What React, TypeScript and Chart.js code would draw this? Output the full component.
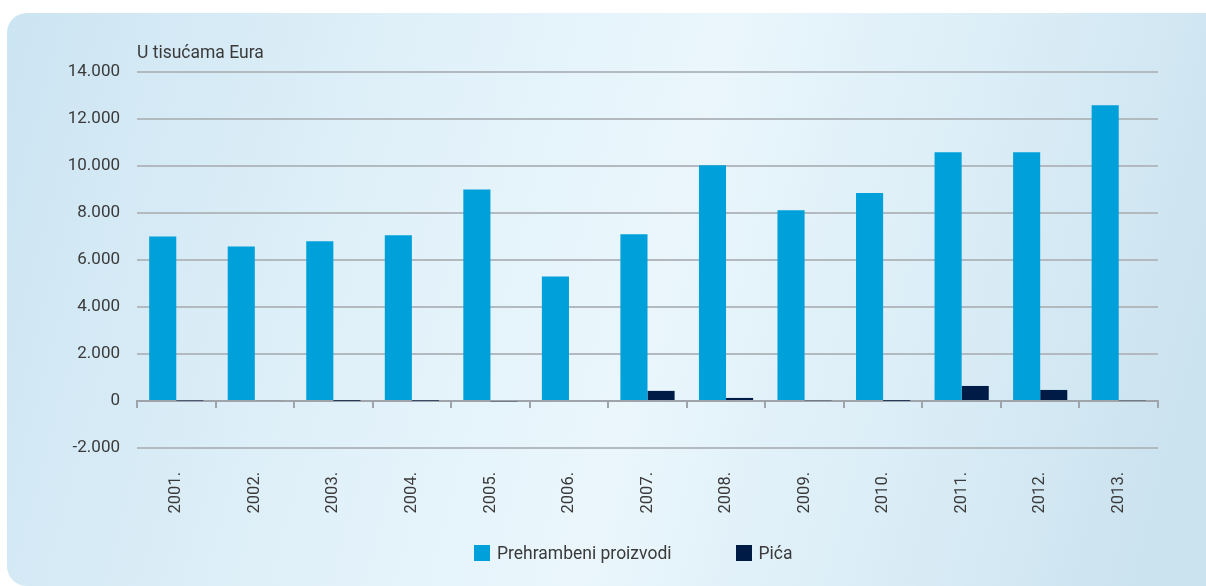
import React, { useEffect, useRef } from "react";
import { Chart, registerables } from "chart.js";

Chart.register(...registerables);

const categories = ["2001.", "2002.", "2003.", "2004.", "2005.", "2006.", "2007.", "2008.", "2009.", "2010.", "2011.", "2012.", "2013."];
const foodValues = [7000, 6570, 6800, 7050, 9000, 5300, 7100, 10030, 8120, 8850, 10580, 10580, 12580];
const drinkValues = [20, 40, 10, 15, -30, 0, 430, 130, 30, 10, 640, 470, 30];
const seriesNames = ["Prehrambeni proizvodi", "Pića"];
const seriesColors = ["#00a0da", "#001b45"];
const yTitle = "U tisućama Eura";
const yMin = -2000;
const yMax = 14000;
const yStep = 2000;

const FONT = "Roboto, 'DejaVu Sans', sans-serif";
const TEXT = "#3a3a3a";

function fmt(v: number): string {
  const s = Math.abs(v).toString().replace(/\B(?=(\d{3})+(?!\d))/g, ".");
  return (v < 0 ? "-" : "") + s;
}

const titlePlugin = {
  id: "axisTitleText",
  afterDraw(chart: any) {
    const { ctx, chartArea } = chart;
    ctx.save();
    ctx.font = `17.5px ${FONT}`;
    ctx.fillStyle = TEXT;
    ctx.textAlign = "left";
    ctx.textBaseline = "alphabetic";
    ctx.fillText(yTitle, chartArea.left, chartArea.top - 14);
    ctx.restore();
  },
};

export default function App() {
  const ref = useRef<HTMLCanvasElement | null>(null);

  useEffect(() => {
    if (!ref.current) return;
    const chart = new Chart(ref.current, {
      type: "bar",
      data: {
        labels: categories,
        datasets: [
          {
            label: seriesNames[0],
            data: foodValues,
            backgroundColor: seriesColors[0],
            categoryPercentage: 0.69,
            barPercentage: 1.0,
          },
          {
            label: seriesNames[1],
            data: drinkValues,
            backgroundColor: seriesColors[1],
            categoryPercentage: 0.69,
            barPercentage: 1.0,
          },
        ],
      },
      options: {
        animation: false,
        responsive: false,
        maintainAspectRatio: false,
        layout: { padding: { top: 72, left: 0, right: 48, bottom: 38 } },
        plugins: {
          legend: { display: false },
          tooltip: { enabled: false },
        },
        scales: {
          x: {
            type: "category",
            position: "bottom",
            grid: { display: false },
            border: { display: false },
            ticks: {
              minRotation: 90,
              maxRotation: 90,
              padding: 16,
              color: TEXT,
              font: { family: FONT, size: 16.5 },
              autoSkip: false,
            },
            afterFit(scale: any) {
              scale.height = 100;
            },
          },
          xz: {
            type: "category",
            position: { y: 0 } as any,
            grid: {
              display: true,
              drawOnChartArea: false,
              drawTicks: true,
              tickLength: 6,
              offset: true,
              color: "#9ea4a9",
              lineWidth: 2,
            },
            border: { display: true, color: "#9ea4a9", width: 2 },
            ticks: { display: false },
          },
          y: {
            min: yMin,
            max: yMax,
            ticks: {
              stepSize: yStep,
              padding: 17,
              color: TEXT,
              font: { family: FONT, size: 17 },
              callback: (v: any) => fmt(Number(v)),
            },
            grid: { color: "#b2babf", lineWidth: 2, drawTicks: false },
            border: { display: false },
            afterFit(scale: any) {
              scale.width = 137;
            },
          },
        },
      } as any,
      plugins: [titlePlugin],
    });
    return () => chart.destroy();
  }, []);

  return (
    <div
      style={{
        position: "fixed",
        left: 0,
        top: 0,
        width: 1206,
        height: 586,
        overflow: "hidden",
        background: "#ffffff",
        fontFamily: FONT,
      }}
    >
      <div
        style={{
          position: "absolute",
          left: 7,
          top: 13,
          width: 1240,
          height: 573,
          borderRadius: 20,
          background: "linear-gradient(105deg, #cce5f2 0%, #e3f2fa 35%, #eaf6fc 52%, #d9ecf6 75%, #cbe3ef 92%)",
        }}
      />
      <canvas
        ref={ref}
        width={1206}
        height={586}
        style={{ position: "absolute", left: 0, top: 0, width: 1206, height: 586 }}
      />
      <div
        style={{
          position: "absolute",
          top: 543,
          left: 474,
          display: "flex",
          alignItems: "center",
          fontSize: 17.5,
          color: TEXT,
          whiteSpace: "nowrap",
        }}
      >
        <span style={{ display: "inline-block", width: 16, height: 16, background: seriesColors[0], marginRight: 7 }} />
        <span style={{ lineHeight: "20px" }}>{seriesNames[0]}</span>
        <span style={{ display: "inline-block", width: 16, height: 16, background: seriesColors[1], marginLeft: 64, marginRight: 7 }} />
        <span style={{ lineHeight: "20px" }}>{seriesNames[1]}</span>
      </div>
    </div>
  );
}
